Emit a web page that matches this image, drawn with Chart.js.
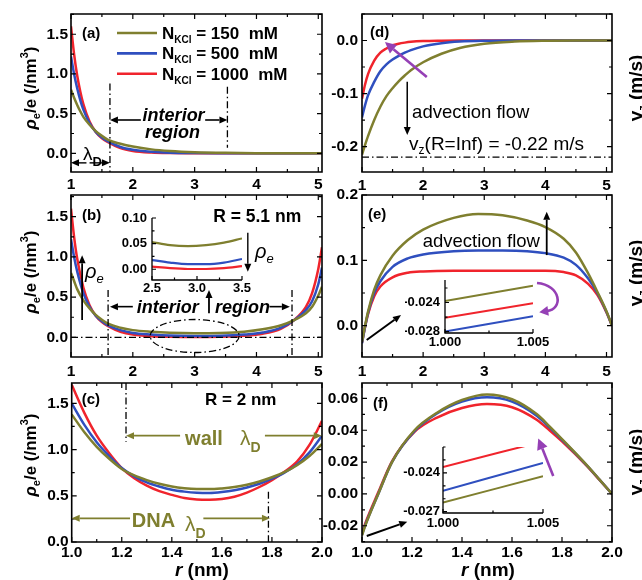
<!DOCTYPE html>
<html><head><meta charset="utf-8">
<script src="https://cdn.jsdelivr.net/npm/chart.js@4.4.1/dist/chart.umd.min.js"></script>
<style>
html,body{margin:0;padding:0;background:#fff;}
#wrap{position:relative;width:642px;height:580px;overflow:hidden;background:#fff;}
#wrap canvas{position:absolute;left:0;top:0;}
</style></head><body><div id="wrap"></div>
<script>
// ---------- data ----------
const concentrations = [150, 500, 1000];
const seriesColors = ['#7f7f2f', '#2f4fbf', '#f0242c'];
const purple = '#9540b5';

// (a)
const aR     = [1.0,1.05,1.1,1.15,1.2,1.3,1.4,1.5,1.6,1.8,2.0,2.3,2.6,3.0,3.5,4.0,4.5,5.06];
const aOlive = [0.80,0.70,0.61,0.53,0.46,0.36,0.28,0.22,0.17,0.12,0.085,0.05,0.03,0.015,0.006,0.002,0.0005,0];
const aBlue  = [1.22,1.00,0.82,0.67,0.55,0.38,0.27,0.20,0.15,0.08,0.045,0.02,0.008,0.003,0.001,0,0,0];
const aRed   = [1.60,1.25,0.98,0.78,0.62,0.40,0.27,0.19,0.14,0.065,0.03,0.01,0.003,0.001,0,0,0,0];
// (b)
const bR     = [1.0,1.05,1.1,1.2,1.3,1.4,1.5,1.6,1.8,2.0,2.3,2.6,3.0,3.4,3.8,4.1,4.4,4.6,4.8,4.9,5.0,5.06];
const bOlive = [0.80,0.70,0.60,0.46,0.36,0.28,0.22,0.17,0.12,0.09,0.07,0.058,0.052,0.055,0.07,0.10,0.15,0.21,0.30,0.38,0.52,0.63];
const bBlue  = [1.22,1.00,0.82,0.55,0.38,0.27,0.20,0.15,0.09,0.055,0.035,0.022,0.017,0.02,0.035,0.06,0.12,0.21,0.34,0.45,0.66,0.87];
const bRed   = [1.60,1.25,0.98,0.62,0.40,0.27,0.19,0.14,0.07,0.035,0.015,0.008,0.005,0.008,0.02,0.045,0.11,0.21,0.38,0.55,0.85,1.12];
// (b) inset
const biR     = [2.5,2.7,2.9,3.1,3.3,3.5];
const biOlive = [0.053,0.047,0.045,0.047,0.052,0.060];
const biBlue  = [0.018,0.013,0.010,0.010,0.013,0.020];
const biRed   = [0.005,0.002,0.0005,0.0005,0.002,0.006];
// (c)
const cR     = [1.0,1.05,1.1,1.15,1.2,1.25,1.3,1.35,1.4,1.45,1.5,1.55,1.6,1.65,1.7,1.75,1.8,1.85,1.9,1.95,2.0];
const cOlive = [1.38,1.19,1.03,0.90,0.79,0.72,0.67,0.63,0.60,0.582,0.573,0.572,0.58,0.595,0.62,0.655,0.70,0.755,0.83,0.93,1.06];
const cBlue  = [1.50,1.27,1.08,0.93,0.80,0.71,0.645,0.60,0.565,0.545,0.533,0.53,0.54,0.56,0.59,0.63,0.685,0.75,0.84,0.97,1.15];
const cRed   = [1.70,1.40,1.15,0.96,0.80,0.69,0.61,0.55,0.51,0.475,0.46,0.457,0.465,0.49,0.535,0.595,0.67,0.76,0.87,1.05,1.31];
// (d)
const dR     = [1.0,1.05,1.1,1.2,1.3,1.4,1.5,1.6,1.7,1.8,2.0,2.3,2.6,3.0,3.5,4.0,4.5,5.09];
const dOlive = [-0.215,-0.197,-0.18,-0.15,-0.125,-0.105,-0.09,-0.077,-0.066,-0.056,-0.041,-0.025,-0.014,-0.006,-0.002,-0.0005,0,0];
const dBlue  = [-0.145,-0.122,-0.103,-0.078,-0.058,-0.045,-0.036,-0.029,-0.023,-0.018,-0.011,-0.005,-0.002,-0.0005,0,0,0,0];
const dRed   = [-0.11,-0.083,-0.063,-0.038,-0.023,-0.015,-0.009,-0.006,-0.004,-0.0025,-0.001,-0.0003,0,0,0,0,0,0];
// (e)
const eR     = [1.0,1.05,1.1,1.2,1.3,1.5,1.75,2.0,2.5,2.9,3.3,3.7,4.0,4.3,4.5,4.7,4.85,5.0,5.09];
const eOlive = [-0.025,0.0,0.022,0.055,0.077,0.107,0.131,0.147,0.165,0.171,0.169,0.161,0.151,0.133,0.112,0.08,0.052,0.022,0.0];
const eBlue  = [-0.027,-0.002,0.02,0.05,0.068,0.09,0.103,0.109,0.114,0.115,0.115,0.114,0.111,0.104,0.093,0.072,0.05,0.021,0.0];
const eRed   = [-0.026,-0.002,0.018,0.045,0.06,0.074,0.081,0.083,0.084,0.084,0.084,0.084,0.084,0.082,0.077,0.064,0.047,0.02,0.0];
// (e) inset
const eiR     = [1.000,1.005];
const eiOlive = [-0.0238,-0.0217];
const eiBlue  = [-0.0280,-0.0259];
const eiRed   = [-0.0261,-0.0241];
// (f)
const fR     = [1.0,1.013,1.065,1.12,1.21,1.3,1.4,1.5,1.6,1.7,1.75,1.8,1.9,1.95,2.0];
const fOlive = [-0.026,-0.02,0.0,0.02,0.04,0.051,0.059,0.0625,0.0595,0.050,0.0425,0.0345,0.018,0.009,0.0];
const fBlue  = [-0.0255,-0.0195,0.0,0.02,0.0395,0.0505,0.058,0.0607,0.058,0.049,0.0418,0.034,0.0178,0.009,0.0];
const fRed   = [-0.0245,-0.0185,0.001,0.0205,0.039,0.048,0.054,0.0565,0.0545,0.0465,0.040,0.033,0.0175,0.0088,0.0];
// (f) inset
const fiR     = [1.000,1.005];
const fiOlive = [-0.0263,-0.02426];
const fiBlue  = [-0.02538,-0.02323];
const fiRed   = [-0.02354,-0.02157];

// tick labels
const abXTicks = ['1','2','3','4','5'];
const abYTicks = ['0.0','0.5','1.0','1.5'];
const dYTicks  = ['-0.2','-0.1','0.0'];
const eYTicks  = ['0.0','0.1','0.2'];
const cfXTicks = ['1.0','1.2','1.4','1.6','1.8','2.0'];
const cYTicks  = ['0.0','0.5','1.0','1.5'];
const fYTicks  = ['-0.02','0.00','0.02','0.04','0.06'];
const biXTicks = ['2.5','3.0','3.5'];
const biYTicks = ['0.00','0.05','0.10'];
const eiXTicks = ['1.000','1.005'];
const eiYTicks = ['-0.028','-0.024'];
const fiXTicks = ['1.000','1.005'];
const fiYTicks = ['-0.027','-0.024'];

// ---------- helpers ----------
const FF = '"Liberation Sans", Arial, Helvetica, sans-serif';
const F = (s, w = 'bold', st = 'normal') => `${st} ${w} ${s}px ${FF}`;
const wrap = document.getElementById('wrap');

function text(ctx, t, x, y, f, align = 'left', base = 'alphabetic', color = '#000') {
  ctx.save(); ctx.font = f; ctx.textAlign = align; ctx.textBaseline = base; ctx.fillStyle = color;
  ctx.fillText(t, x, y); ctx.restore();
}
function rich(ctx, parts, x, y, align = 'left', color = '#000') {
  ctx.save(); ctx.textBaseline = 'alphabetic'; ctx.textAlign = 'left';
  let w = 0;
  parts.forEach(p => { ctx.font = p.f; p.w = ctx.measureText(p.t).width; w += p.w; });
  let cx = align === 'center' ? x - w / 2 : align === 'right' ? x - w : x;
  parts.forEach(p => { ctx.font = p.f; ctx.fillStyle = p.c || color; ctx.fillText(p.t, cx, y + (p.dy || 0)); cx += p.w; });
  ctx.restore();
}
function richRot(ctx, parts, x, y) {
  ctx.save(); ctx.translate(x, y); ctx.rotate(-Math.PI / 2); rich(ctx, parts, 0, 0, 'center'); ctx.restore();
}
function arrow(ctx, x1, y1, x2, y2, o = {}) {
  const col = o.c || '#000', lw = o.lw || 1.6, hl = o.hl || 8, hw = o.hw || 3.5;
  const a = Math.atan2(y2 - y1, x2 - x1);
  const bx = x2 - hl * Math.cos(a), by = y2 - hl * Math.sin(a);
  ctx.save(); ctx.strokeStyle = col; ctx.fillStyle = col; ctx.lineWidth = lw; ctx.setLineDash([]);
  ctx.beginPath(); ctx.moveTo(x1, y1); ctx.lineTo(bx, by); ctx.stroke();
  ctx.beginPath(); ctx.moveTo(x2, y2);
  ctx.lineTo(bx - hw * Math.sin(a), by + hw * Math.cos(a));
  ctx.lineTo(bx + hw * Math.sin(a), by - hw * Math.cos(a));
  ctx.closePath(); ctx.fill(); ctx.restore();
}
function dash(ctx, x1, y1, x2, y2) {
  ctx.save(); ctx.strokeStyle = '#000'; ctx.lineWidth = 1.3; ctx.setLineDash([7, 3, 1.5, 3]);
  ctx.beginPath(); ctx.moveTo(x1, y1); ctx.lineTo(x2, y2); ctx.stroke(); ctx.restore();
}
function line(ctx, x1, y1, x2, y2, c, lw) {
  ctx.save(); ctx.strokeStyle = c; ctx.lineWidth = lw; ctx.beginPath(); ctx.moveTo(x1, y1); ctx.lineTo(x2, y2); ctx.stroke(); ctx.restore();
}
const leftTitle = (ctx, yc) => richRot(ctx, [
  { t: 'ρ', f: F(17, 'bold', 'italic') }, { t: 'e', f: F(11), dy: 4 }, { t: '/e', f: F(17) },
  { t: ' (/nm', f: F(17) }, { t: '3', f: F(11), dy: -8 }, { t: ')', f: F(17) }], 36, yc);
const rightTitle = (ctx, yc) => richRot(ctx, [
  { t: 'v', f: F(19) }, { t: 'z', f: F(11), dy: 4 }, { t: ' (m/s)', f: F(19) }], 642, yc);
const rTitle = (ctx, xc) => rich(ctx, [{ t: 'r', f: F(19, 'bold', 'italic') }, { t: ' (nm)', f: F(19) }], xc, 576, 'center');

function minorVals(min, max, step, maj) {
  const r = [];
  for (let k = Math.ceil(min / step - 1e-6); k * step <= max + 1e-9; k++) {
    const v = k * step;
    if (!maj.some(m => Math.abs(m - v) < step * 0.05)) r.push(v);
  }
  return r;
}
function drawFrame(chart, o) {
  const { ctx, chartArea: a, scales: { x, y } } = chart;
  ctx.save(); ctx.strokeStyle = '#000'; ctx.setLineDash([]);
  ctx.lineWidth = o.inset ? 1.3 : 1.6;
  ctx.beginPath();
  if (o.inset) { ctx.moveTo(a.left, a.top); ctx.lineTo(a.left, a.bottom); ctx.lineTo(a.right, a.bottom); }
  else ctx.rect(a.left, a.top, a.right - a.left, a.bottom - a.top);
  ctx.stroke();
  const majL = o.inset ? 4 : 5, minL = o.inset ? 2.5 : 3;
  const xt = o.xTicks.map(Number), yt = o.yTicks.map(Number);
  ctx.beginPath();
  const vx = (v, l) => { const p = x.getPixelForValue(v); ctx.moveTo(p, a.bottom); ctx.lineTo(p, a.bottom - l);
    if (!o.inset) { ctx.moveTo(p, a.top); ctx.lineTo(p, a.top + l); } };
  const vy = (v, l) => { const p = y.getPixelForValue(v); ctx.moveTo(a.left, p); ctx.lineTo(a.left + l, p);
    if (!o.inset) { ctx.moveTo(a.right, p); ctx.lineTo(a.right - l, p); } };
  xt.forEach(v => vx(v, majL)); minorVals(o.xMin, o.xMax, o.xMinor, xt).forEach(v => vx(v, minL));
  yt.forEach(v => vy(v, majL)); minorVals(o.yMin, o.yMax, o.yMinor, yt).forEach(v => vy(v, minL));
  ctx.lineWidth = 1.2; ctx.stroke(); ctx.restore();
}

function panel(o) {
  const cv = document.createElement('canvas'); cv.width = 642; cv.height = 580; wrap.appendChild(cv);
  const YW = 40, XH = 30;
  const xt = o.xTicks.map(Number), yt = o.yTicks.map(Number);
  const deco = { id: 'deco', afterDatasetsDraw(chart) {
    drawFrame(chart, o);
    if (o.deco) {
      const X = v => chart.scales.x.getPixelForValue(v), Y = v => chart.scales.y.getPixelForValue(v);
      o.deco(chart.ctx, X, Y, chart.chartArea);
    }
  } };
  const tickFont = { family: FF, size: o.fs, weight: 'bold' };
  new Chart(cv, {
    type: 'line',
    data: { datasets: o.series.map((s, i) => ({
      label: 'N_KCl = ' + concentrations[i] + ' mM',
      data: s.map((v, j) => ({ x: o.r[j], y: v })),
      borderColor: seriesColors[i], borderWidth: o.lw || 2.5, pointRadius: 0, fill: false,
      cubicInterpolationMode: 'monotone' })) },
    options: {
      responsive: false, animation: false, devicePixelRatio: 1,
      layout: { padding: { left: o.L - YW, top: o.T, right: 642 - o.R, bottom: 580 - o.B - XH } },
      plugins: { legend: { display: false }, tooltip: { enabled: false } },
      scales: {
        x: { type: 'linear', min: o.xMin, max: o.xMax,
          afterBuildTicks: s => { s.ticks = xt.map(v => ({ value: v })); },
          afterFit: s => { s.height = XH; },
          grid: { display: false, drawTicks: false }, border: { display: false },
          ticks: { autoSkip: false, maxRotation: 0, minRotation: 0, padding: o.xPad, color: '#000', font: tickFont,
            callback: (v, i) => o.xTicks[i] } },
        y: { type: 'linear', min: o.yMin, max: o.yMax,
          afterBuildTicks: s => { s.ticks = yt.map(v => ({ value: v })); },
          afterFit: s => { s.width = YW; },
          grid: { display: false, drawTicks: false }, border: { display: false },
          ticks: { autoSkip: false, padding: o.yPad, color: '#000', font: tickFont,
            callback: (v, i) => o.yTicks[i] } }
      }
    },
    plugins: [deco]
  });
}

// ---------- panels ----------
panel({ L: 71, T: 14, R: 322, B: 172, xMin: 1, xMax: 5.06, yMin: -0.235, yMax: 1.755,
  xTicks: abXTicks, yTicks: abYTicks, xMinor: 0.5, yMinor: 0.25, fs: 15.5, xPad: 3, yPad: 3,
  r: aR, series: [aOlive, aBlue, aRed],
  deco: (ctx, X, Y, a) => {
    concentrations.forEach((c, i) => {
      const yy = a.top + 19 + i * 20.4;
      line(ctx, a.left + 46, yy, a.left + 86, yy, seriesColors[i], 2.6);
      rich(ctx, [{ t: 'N', f: F(17) }, { t: 'KCl', f: F(10), dy: 4 }, { t: ' = ' + c + '  mM', f: F(17) }], a.left + 91, yy + 6);
    });
    text(ctx, '(a)', a.left + 11, a.top + 20, F(15), 'left', 'middle');
    dash(ctx, X(1.63), Y(0.88), X(1.63), a.bottom);
    dash(ctx, X(3.53), Y(0.84), X(3.53), Y(0.07));
    arrow(ctx, X(2.13), Y(0.42), X(1.63), Y(0.42));
    arrow(ctx, X(3.17), Y(0.42), X(3.53), Y(0.42));
    text(ctx, 'interior', X(2.66), Y(0.47), F(18, 'bold', 'italic'), 'center', 'middle');
    text(ctx, 'region', X(2.64), Y(0.25), F(18, 'bold', 'italic'), 'center', 'middle');
    rich(ctx, [{ t: 'λ', f: F(19, 'normal') }, { t: 'D', f: F(13), dy: 6 }], X(1.348), Y(-0.084), 'center');
    arrow(ctx, X(1.25), Y(-0.12), X(1.0), Y(-0.12), { lw: 1.4 });
    arrow(ctx, X(1.3), Y(-0.12), X(1.63), Y(-0.12), { lw: 1.4 });
    leftTitle(ctx, 88);
  } });

panel({ L: 362, T: 14, R: 612, B: 172, xMin: 1, xMax: 5.09, yMin: -0.248, yMax: 0.05,
  xTicks: abXTicks, yTicks: dYTicks, xMinor: 0.5, yMinor: 0.05, fs: 15.5, xPad: 4, yPad: 4,
  r: dR, series: [dOlive, dBlue, dRed],
  deco: (ctx, X, Y, a) => {
    text(ctx, '(d)', a.left + 8, a.top + 19, F(15), 'left', 'middle');
    dash(ctx, a.left, Y(-0.22), a.right, Y(-0.22));
    arrow(ctx, X(2.06), Y(-0.069), X(1.376), Y(-0.003), { c: purple, lw: 2.6, hl: 11, hw: 5.5 });
    arrow(ctx, X(1.74), Y(-0.078), X(1.74), Y(-0.178), { lw: 1.5 });
    text(ctx, 'advection flow', X(1.82), Y(-0.147), F(18.5, 'normal'));
    rich(ctx, [{ t: 'v', f: F(19, 'normal') }, { t: 'z', f: F(12, 'normal'), dy: 4 },
      { t: '(R=Inf) = -0.22 m/s', f: F(19, 'normal') }], X(1.77), Y(-0.2066));
    rightTitle(ctx, 88);
  } });

panel({ L: 71, T: 195, R: 322, B: 357, xMin: 1, xMax: 5.06, yMin: -0.244, yMax: 1.77,
  xTicks: abXTicks, yTicks: abYTicks, xMinor: 0.5, yMinor: 0.25, fs: 15.5, xPad: 5, yPad: 3,
  r: bR, series: [bOlive, bBlue, bRed],
  deco: (ctx, X, Y, a) => {
    text(ctx, '(b)', a.left + 11, a.top + 21, F(15), 'left', 'middle');
    text(ctx, 'R = 5.1 nm', X(3.3), Y(1.438), F(17.5));
    dash(ctx, a.left, Y(0), a.right, Y(0));
    dash(ctx, X(1.6), Y(0.59), X(1.6), a.bottom);
    dash(ctx, X(4.575), Y(0.59), X(4.575), a.bottom);
    arrow(ctx, X(3.86), Y(1.30), X(3.86), Y(0.815), { lw: 1.4 });
    rich(ctx, [{ t: 'ρ', f: F(20, 'normal', 'italic') }, { t: 'e', f: F(13, 'normal', 'italic'), dy: 5 }], X(3.976), Y(0.987));
    arrow(ctx, X(1.18), Y(0.216), X(1.18), Y(1.02), { lw: 1.8 });
    rich(ctx, [{ t: 'ρ', f: F(20, 'normal', 'italic') }, { t: 'e', f: F(13, 'normal', 'italic'), dy: 5 }], X(1.226), Y(0.738));
    arrow(ctx, X(2.0), Y(0.382), X(1.63), Y(0.382));
    text(ctx, 'interior', X(2.062), Y(0.303), F(18, 'bold', 'italic'));
    arrow(ctx, X(3.232), Y(0.30), X(3.232), Y(0.59), { lw: 1.8 });
    text(ctx, 'region', X(3.33), Y(0.303), F(18, 'bold', 'italic'));
    arrow(ctx, X(4.21), Y(0.382), X(4.54), Y(0.382));
    const cx = X(3.0), cy = Y(0.017), rx = X(3.72) - X(3.0), ry = Y(0) - Y(0.205);
    ctx.save(); ctx.strokeStyle = '#000'; ctx.lineWidth = 1.3; ctx.setLineDash([7, 3, 1.5, 3]);
    ctx.beginPath(); ctx.ellipse(cx, cy, rx, ry, 0, 0, Math.PI * 2); ctx.stroke(); ctx.restore();
    leftTitle(ctx, 272);
  } });

panel({ L: 152, T: 218, R: 242, B: 280, xMin: 2.5, xMax: 3.5, yMin: -0.021, yMax: 0.1,
  xTicks: biXTicks, yTicks: biYTicks, xMinor: 0.25, yMinor: 0.025, fs: 13, xPad: 1, yPad: 5, inset: true, lw: 2.2,
  r: biR, series: [biOlive, biBlue, biRed] });

panel({ L: 362, T: 195, R: 612, B: 357, xMin: 1, xMax: 5.09, yMin: -0.048, yMax: 0.2,
  xTicks: abXTicks, yTicks: eYTicks, xMinor: 0.5, yMinor: 0.05, fs: 15.5, xPad: 5, yPad: 4,
  r: eR, series: [eOlive, eBlue, eRed],
  deco: (ctx, X, Y, a) => {
    text(ctx, '(e)', a.left + 6, a.top + 20, F(15), 'left', 'middle');
    text(ctx, 'advection flow', X(1.993), Y(0.1208), F(18.5, 'normal'));
    arrow(ctx, X(4.022), Y(0.108), X(4.022), Y(0.1744), { lw: 1.8 });
    arrow(ctx, X(1.077), Y(-0.022), X(1.638), Y(0.0162), { lw: 2 });
    ctx.save(); ctx.strokeStyle = purple; ctx.lineWidth = 2.6;
    ctx.beginPath(); ctx.moveTo(X(3.863), Y(0.0652));
    ctx.bezierCurveTo(X(4.26), Y(0.0622), X(4.30), Y(0.025), X(4.02), Y(0.0224)); ctx.stroke(); ctx.restore();
    arrow(ctx, X(4.05), Y(0.0226), X(3.90), Y(0.0205), { c: purple, lw: 2.6, hl: 9, hw: 5 });
    rightTitle(ctx, 273);
  } });

panel({ L: 445, T: 280, R: 533, B: 333, xMin: 1.0, xMax: 1.005, yMin: -0.0282, yMax: -0.0209,
  xTicks: eiXTicks, yTicks: eiYTicks, xMinor: 0.0025, yMinor: 0.002, fs: 13, xPad: 2, yPad: 5, inset: true, lw: 2,
  r: eiR, series: [eiOlive, eiBlue, eiRed] });

panel({ L: 71.7, T: 383, R: 322, B: 542, xMin: 1, xMax: 2, yMin: 0, yMax: 1.72,
  xTicks: cfXTicks, yTicks: cYTicks, xMinor: 0.1, yMinor: 0.25, fs: 15.5, xPad: 1, yPad: 3,
  r: cR, series: [cOlive, cBlue, cRed],
  deco: (ctx, X, Y, a) => {
    const ol = seriesColors[0];
    text(ctx, '(c)', a.left + 10, a.top + 17, F(15), 'left', 'middle');
    text(ctx, 'R = 2 nm', X(1.533), Y(1.482), F(17));
    dash(ctx, X(1.217), a.top, X(1.217), Y(1.085));
    arrow(ctx, X(1.433), Y(1.15), X(1.217), Y(1.15), { c: ol, lw: 1.8 });
    text(ctx, 'wall', X(1.453), Y(1.049), F(20), 'left', 'alphabetic', ol);
    rich(ctx, [{ t: 'λ', f: F(21, 'normal') }, { t: 'D', f: F(14), dy: 7 }], X(1.672), Y(1.049), 'left', ol);
    arrow(ctx, X(1.772), Y(1.15), X(1.999), Y(1.15), { c: ol, lw: 1.8 });
    arrow(ctx, X(1.233), Y(0.256), X(1.0), Y(0.256), { c: ol, lw: 1.8 });
    text(ctx, 'DNA', X(1.24), Y(0.166), F(20), 'left', 'alphabetic', ol);
    rich(ctx, [{ t: 'λ', f: F(21, 'normal') }, { t: 'D', f: F(14), dy: 7 }], X(1.453), Y(0.119), 'left', ol);
    arrow(ctx, X(1.526), Y(0.256), X(1.792), Y(0.256), { c: ol, lw: 1.8 });
    dash(ctx, X(1.786), Y(0.544), X(1.786), a.bottom);
    leftTitle(ctx, 455);
    rTitle(ctx, (a.left + a.right) / 2 + 5);
  } });

panel({ L: 362, T: 383, R: 612, B: 542, xMin: 1, xMax: 2, yMin: -0.0302, yMax: 0.0697,
  xTicks: cfXTicks, yTicks: fYTicks, xMinor: 0.1, yMinor: 0.01, fs: 15.5, xPad: 1, yPad: 4,
  r: fR, series: [fOlive, fBlue, fRed],
  deco: (ctx, X, Y, a) => {
    text(ctx, '(f)', a.left + 11, a.top + 21, F(15), 'left', 'middle');
    arrow(ctx, X(1.019), Y(-0.02645), X(1.181), Y(-0.01747), { lw: 2 });
    arrow(ctx, X(1.765), Y(0.01125), X(1.705), Y(0.0349), { c: purple, lw: 2.6, hl: 11, hw: 5.5 });
    rightTitle(ctx, 462);
    rTitle(ctx, (a.left + a.right) / 2 + 1);
  } });

panel({ L: 443, T: 447, R: 543, B: 513, xMin: 1.0, xMax: 1.005, yMin: -0.0271, yMax: -0.022,
  xTicks: fiXTicks, yTicks: fiYTicks, xMinor: 0.0025, yMinor: 0.001, fs: 13, xPad: 3, yPad: 3, inset: true, lw: 2,
  r: fiR, series: [fiOlive, fiBlue, fiRed] });
</script>
</body></html>
